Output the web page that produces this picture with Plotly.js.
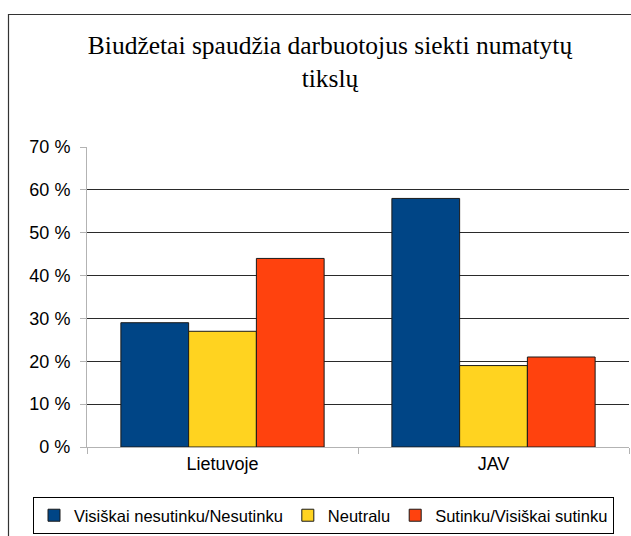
<!DOCTYPE html>
<html>
<head>
<meta charset="utf-8">
<script src="https://cdn.plot.ly/plotly-3.0.1.min.js"></script>
<style>html,body{margin:0;padding:0;background:#fff;}#chart{width:631px;height:536px;}</style>
</head>
<body>
<div id="chart"></div>
<script>
const categories = ["Lietuvoje", "JAV"];
const seriesNames = ["Visiškai nesutinku/Nesutinku", "Neutralu", "Sutinku/Visiškai sutinku"];
const disagree = [29, 58];
const neutral = [27, 19];
const agree = [44, 21];
const colors = ["#004586", "#ffd320", "#ff420e"];
const titleText = "Biudžetai spaudžia darbuotojus siekti numatytų<br>tikslų";

const values = [disagree, neutral, agree];
const traces = values.map((v, i) => ({
  type: "bar",
  name: seriesNames[i],
  x: categories,
  y: v,
  marker: {color: colors[i], line: {color: "#1a1a1a", width: 1}},
  hoverinfo: "x+y+name"
}));

// plot area: x 87..629, y 147..447
const L = 87, R = 629, T = 147, B = 447;
const W = 631, H = 536;
const px = x => (x - L) / (R - L);
const py = y => (B - y) / (B - T);

const layout = {
  width: W, height: H,
  margin: {l: L, r: W - R, t: T, b: H - B, pad: 0},
  paper_bgcolor: "#ffffff",
  plot_bgcolor: "#ffffff",
  font: {family: "Liberation Sans, Arial, sans-serif", size: 18, color: "#000"},
  title: {
    text: titleText,
    font: {family: "Liberation Serif, Times New Roman, serif", size: 25.5, color: "#000"},
    xref: "container", x: 330 / W, xanchor: "center",
    yref: "container", y: 1 - 54 / H, yanchor: "middle"
  },
  barmode: "group",
  bargap: 0.25,
  bargroupgap: 0,
  showlegend: true,
  legend: {
    orientation: "h",
    xref: "paper", x: px(33), xanchor: "left",
    yref: "paper", y: py(534), yanchor: "bottom",
    bordercolor: "#000", borderwidth: 1,
    font: {family: "Liberation Sans, Arial, sans-serif", size: 16.5, color: "#000"},
    itemwidth: 30,
    tracegroupgap: 0,
    traceorder: "normal"
  },
  xaxis: {
    type: "category",
    showline: true, linecolor: "#b3b3b3", linewidth: 1,
    ticks: "outside", tickson: "boundaries", ticklen: 6, tickcolor: "#b3b3b3",
    showgrid: false, zeroline: false,
    tickfont: {size: 18, color: "#000"},
    fixedrange: true
  },
  yaxis: {
    range: [0, 70], dtick: 10, tick0: 0,
    ticksuffix: " %",
    showline: true, linecolor: "#b3b3b3", linewidth: 1,
    ticks: "outside", ticklen: 6, tickcolor: "#b3b3b3",
    ticklabelstandoff: 6,
    showgrid: true, gridcolor: "#2a2a2a", gridwidth: 1,
    zeroline: false,
    tickfont: {size: 18, color: "#000"},
    fixedrange: true
  },
  shapes: [{
    type: "rect", xref: "paper", yref: "paper",
    x0: px(8.5), x1: px(640), y0: py(545), y1: py(14.5),
    line: {color: "#333", width: 1.2}, fillcolor: "rgba(0,0,0,0)", layer: "below"
  }]
};

Plotly.newPlot("chart", traces, layout, {displayModeBar: false, staticPlot: true});
</script>
</body>
</html>
